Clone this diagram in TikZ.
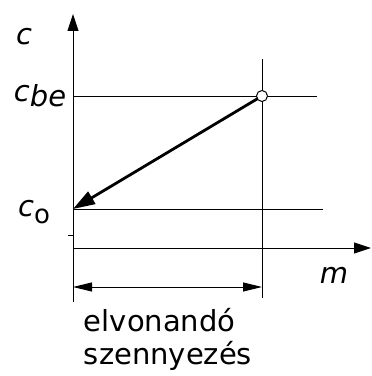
\documentclass[tikz,border=0pt]{standalone}
\usepackage{fontspec}
\setmainfont{DejaVu Sans}
\usetikzlibrary{arrows.meta}

\begin{document}
\begin{tikzpicture}[x=1pt,y=1pt,every node/.style={font=\fontsize{29}{33}\selectfont,inner sep=0pt},
  thin line/.style={line width=.8pt},
  axis/.style={line width=.9pt,-{Triangle[length=17pt,width=11pt]}},
  dimline/.style={line width=.9pt,{Triangle[length=19pt,width=9pt]}-{Triangle[length=19pt,width=9pt]}}]
\useasboundingbox (0,0) rectangle (372,376);
\coordinate (O) at (73,128);
\coordinate (ytop) at (73,362);
\coordinate (ybot) at (73,74);
\coordinate (xend) at (371,128);
\coordinate (P) at (262,280);
\coordinate (Q) at (73,167);
\coordinate (vtop) at (262,317);
\coordinate (vbot) at (262,78);
\coordinate (be end) at (317,280);
\coordinate (o end) at (323,167);
\coordinate (dl) at (73,89);
\coordinate (dr) at (262,89);
% axes
\draw[axis] (ybot)--(ytop);
\draw[axis] (O)--(xend);
\draw[thin line] (68,141)--(73,141);
% guide lines
\draw[thin line] (73,280)--(be end);
\draw[thin line] (Q)--(o end);
\draw[thin line] (vbot)--(vtop);
% process arrow
\draw[line width=2.8pt,-{Triangle[length=22pt,width=14pt]},shorten <=5pt] (P)--(Q);
\draw[line width=1pt,fill=white] (P) circle (5.5pt);
\draw[dimline] (dl)--(dr);
% labels
\node (lc) at (24,339) {\itshape c};
\node (lcbe) at (40,280) {\itshape c\raisebox{-.35ex}{be}};
\node (lco) at (34,164) {\itshape c\raisebox{-.45ex}{\fontsize{26}{30}\selectfont\upshape o}};
\node (lm) at (334,101) {\itshape m};
\node[align=left] (ltext) at (168,37) {elvonandó\\[0pt]szennyezés};
\end{tikzpicture}
\end{document}
